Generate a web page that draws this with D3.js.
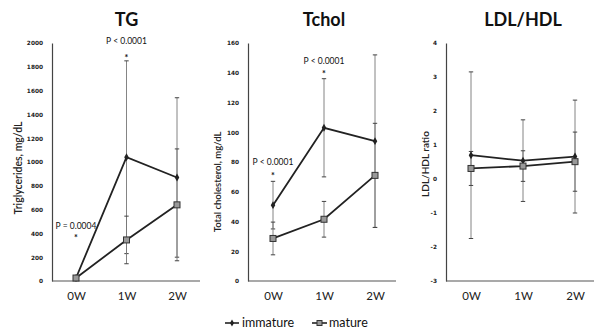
<!DOCTYPE html>
<html><head><meta charset="utf-8">
<script src="https://cdnjs.cloudflare.com/ajax/libs/d3/7.8.5/d3.min.js"></script>
<style>body{margin:0;background:#fff}svg{display:block}</style>
</head><body><div id="chart"></div>
<script>
const categories = ["0W", "1W", "2W"];
const seriesNames = ["immature", "mature"];

const tgImmature = [25, 1040, 870];
const tgImmatureSD = [15, 810, 670];
const tgMature = [25, 345, 640];
const tgMatureSD = [10, 200, 470];
const tgTicks = [0, 200, 400, 600, 800, 1000, 1200, 1400, 1600, 1800, 2000];

const tcImmature = [51, 103, 94];
const tcImmatureSD = [16, 33, 58];
const tcMature = [28.6, 41.5, 71];
const tcMatureSD = [11, 12, 35];
const tcTicks = [0, 20, 40, 60, 80, 100, 120, 140, 160];

const ldlImmature = [0.70, 0.54, 0.66];
const ldlImmatureSD = [2.45, 1.2, 1.66];
const ldlMature = [0.31, 0.38, 0.51];
const ldlMatureSD = [0.5, 0.45, 0.87];
const ldlTicks = [-3, -2, -1, 0, 1, 2, 3, 4];

const panels = [
  {title: "TG", ylabel: "Triglycerides, mg/dL", ax: 52, x0: 76, step: 50.5, xEnd: 200,
   domain: [0, 2000], ticks: tgTicks, imm: tgImmature, immSD: tgImmatureSD, mat: tgMature, matSD: tgMatureSD,
   labelX: 18, labelY: 168, labelSize: 10.5,
   notes: [{cat: 1, value: 1990, text: "P < 0.0001", star: 1880}, {cat: 0, value: 440, text: "P = 0.0004", star: 370}]},
  {title: "Tchol", ylabel: "Total cholesterol, mg/dL", ax: 248, x0: 273, step: 51, xEnd: 396,
   domain: [0, 160], ticks: tcTicks, imm: tcImmature, immSD: tcImmatureSD, mat: tcMature, matSD: tcMatureSD,
   labelX: 218, labelY: 182, labelSize: 9.5,
   notes: [{cat: 1, value: 146, text: "P < 0.0001", star: 140}, {cat: 0, value: 78, text: "P < 0.0001", star: 71}]},
  {title: "LDL/HDL", ylabel: "LDL/HDL ratio", ax: 446, x0: 471, step: 52, xEnd: 594,
   domain: [-3, 4], ticks: ldlTicks, imm: ldlImmature, immSD: ldlImmatureSD, mat: ldlMature, matSD: ldlMatureSD,
   labelX: 425, labelY: 164, labelSize: 10, notes: []}
];

const W = 594, H = 330, yTop = 43, yBot = 281;
const svg = d3.select("#chart").append("svg").attr("width", W).attr("height", H)
  .style("font-family", "Lato, 'Open Sans', sans-serif");

panels.forEach(p => {
  const g = svg.append("g");
  const x = d3.scalePoint().domain(categories)
    .range([p.x0, p.x0 + 2 * p.step]);
  const y = d3.scaleLinear().domain(p.domain).range([yBot, yTop]);

  // axes
  const yAxis = d3.axisLeft(y).tickValues(p.ticks).tickSize(0).tickPadding(9)
    .tickFormat(d => String(d));
  const ya = g.append("g").attr("transform", `translate(${p.ax},0)`).call(yAxis);
  ya.select(".domain").attr("stroke", "#444").attr("stroke-width", 1.2);
  ya.selectAll("text").attr("font-weight", "bold").attr("fill", "#222")
    .style("font-family", "'DejaVu Sans', sans-serif").attr("font-size", 5.8);

  g.append("line").attr("x1", p.ax).attr("x2", p.xEnd).attr("y1", yBot).attr("y2", yBot)
    .attr("stroke", "#555").attr("stroke-width", 1.2);

  const xa = g.append("g").attr("transform", `translate(0,${yBot})`)
    .call(d3.axisBottom(x).tickSize(0).tickPadding(11));
  xa.select(".domain").remove();
  xa.selectAll("text").attr("font-size", 11.5).attr("fill", "#222")
    .style("font-family", "Lato, sans-serif");

  // title
  g.append("text").attr("x", x(categories[1])).attr("y", 26).attr("text-anchor", "middle")
    .attr("font-size", 18).attr("font-weight", "bold").attr("fill", "#111").text(p.title);

  // y label
  g.append("text").attr("transform", `translate(${p.labelX},${p.labelY}) rotate(-90)`)
    .attr("text-anchor", "middle").attr("dy", "0.35em").attr("font-size", p.labelSize)
    .attr("font-weight", 600).attr("fill", "#222")
    .text(p.ylabel);

  // error bars
  const series = [{v: p.imm, sd: p.immSD}, {v: p.mat, sd: p.matSD}];
  series.forEach(s => {
    categories.forEach((c, i) => {
      const cx = x(c), hi = y(s.v[i] + s.sd[i]), lo = y(s.v[i] - s.sd[i]);
      g.append("line").attr("x1", cx).attr("x2", cx).attr("y1", hi).attr("y2", lo)
        .attr("stroke", "#777").attr("stroke-width", 0.9);
      [hi, lo].forEach(yy => g.append("line").attr("x1", cx - 2.2).attr("x2", cx + 2.2)
        .attr("y1", yy).attr("y2", yy).attr("stroke", "#444").attr("stroke-width", 1));
    });
  });

  // lines
  const line = d3.line().x((d, i) => x(categories[i])).y(d => y(d));
  g.append("path").datum(p.imm).attr("d", line).attr("fill", "none").attr("stroke", "#222").attr("stroke-width", 1.8);
  g.append("path").datum(p.mat).attr("d", line).attr("fill", "none").attr("stroke", "#222").attr("stroke-width", 1.8);

  // markers
  g.selectAll(".dia").data(p.imm).join("path")
    .attr("transform", (d, i) => `translate(${x(categories[i])},${y(d)})`)
    .attr("d", d3.symbol(d3.symbolDiamond, 18)).attr("fill", "#222");
  g.selectAll(".sq").data(p.mat).join("rect")
    .attr("x", (d, i) => x(categories[i]) - 3).attr("y", d => y(d) - 3)
    .attr("width", 6).attr("height", 6).attr("fill", "#999").attr("stroke", "#333").attr("stroke-width", 1);

  // notes
  p.notes.forEach(n => {
    g.append("text").attr("x", x(categories[n.cat])).attr("y", y(n.value)).attr("text-anchor", "middle")
      .attr("font-size", 8.5).attr("fill", "#111").style("font-family", "Lato, sans-serif")
      .text(n.text);
    g.append("text").attr("x", x(categories[n.cat])).attr("y", y(n.star) + 4).attr("text-anchor", "middle")
      .attr("font-size", 9).attr("font-weight", "bold").attr("fill", "#111").text("*");
  });
});

// legend
const lg = svg.append("g");
const ly = 323;
lg.append("line").attr("x1", 225).attr("x2", 239).attr("y1", ly).attr("y2", ly).attr("stroke", "#222").attr("stroke-width", 1.6);
lg.append("path").attr("transform", `translate(232,${ly})`).attr("d", d3.symbol(d3.symbolDiamond, 14)).attr("fill", "#222");
lg.append("text").attr("x", 242).attr("y", ly).attr("dy", "0.35em").attr("font-size", 12.5).attr("fill", "#111").text(seriesNames[0]);
lg.append("line").attr("x1", 312).attr("x2", 327).attr("y1", ly).attr("y2", ly).attr("stroke", "#222").attr("stroke-width", 1.6);
lg.append("rect").attr("x", 317).attr("y", ly - 2.5).attr("width", 5).attr("height", 5).attr("fill", "#999").attr("stroke", "#333");
lg.append("text").attr("x", 329).attr("y", ly).attr("dy", "0.35em").attr("font-size", 12.5).attr("fill", "#111").text(seriesNames[1]);
</script></body></html>
